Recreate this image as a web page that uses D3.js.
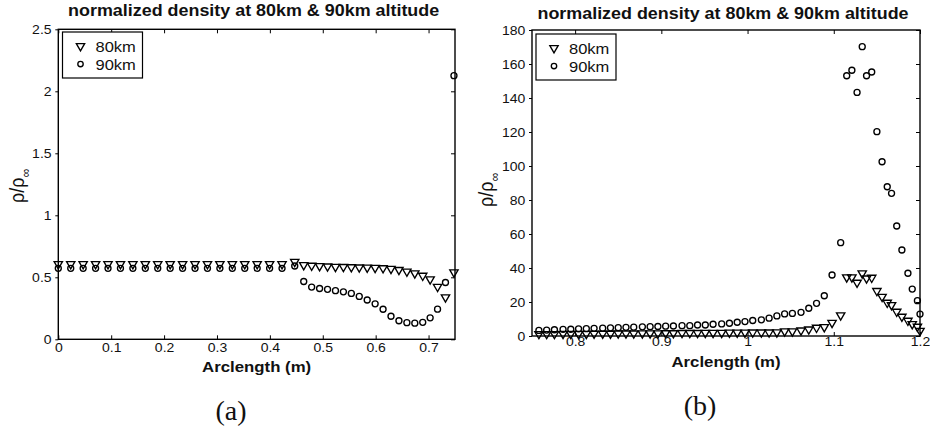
<!DOCTYPE html>
<html>
<head>
<meta charset="utf-8">
<script src="https://cdn.jsdelivr.net/npm/d3@7/dist/d3.min.js"></script>
<style>
  html, body { margin: 0; padding: 0; background: #fff; }
  svg { display: block; }
  text { font-family: "Liberation Sans", Arial, Helvetica, sans-serif; fill: #111; }
</style>
</head>
<body>
<svg id="fig" width="930" height="430"></svg>
<script>
// ---- panel (a): arclength 0 .. 0.75 m ----
const arcA = [0, 0.0235, 0.0470, 0.0705, 0.0940, 0.1175, 0.1410, 0.1645, 0.1880, 0.2115,
  0.2350, 0.2585, 0.2820, 0.3055, 0.3290, 0.3525, 0.3760, 0.3995, 0.4230, 0.4470,
  0.4640, 0.4790, 0.4940, 0.5090, 0.5240, 0.5390, 0.5540, 0.5690, 0.5840, 0.5990,
  0.6140, 0.6290, 0.6440, 0.6590, 0.6740, 0.6890, 0.7030, 0.7170, 0.7320, 0.7480];
const rho80A = [0.607, 0.607, 0.607, 0.607, 0.607, 0.607, 0.607, 0.607, 0.607, 0.607,
  0.607, 0.607, 0.607, 0.607, 0.607, 0.607, 0.607, 0.607, 0.607, 0.625,
  0.599, 0.594, 0.591, 0.588, 0.585, 0.584, 0.582, 0.580, 0.579, 0.577,
  0.574, 0.569, 0.560, 0.547, 0.532, 0.513, 0.484, 0.424, 0.339, 0.540];
const rho90A = [0.572, 0.572, 0.572, 0.572, 0.572, 0.572, 0.572, 0.572, 0.572, 0.572,
  0.572, 0.572, 0.572, 0.572, 0.572, 0.572, 0.572, 0.572, 0.572, 0.591,
  0.466, 0.421, 0.410, 0.403, 0.392, 0.383, 0.370, 0.346, 0.317, 0.286,
  0.242, 0.186, 0.150, 0.134, 0.130, 0.137, 0.173, 0.243, 0.458, 2.126];
const xTicksA = [0, 0.1, 0.2, 0.3, 0.4, 0.5, 0.6, 0.7];
const yTicksA = [0, 0.5, 1, 1.5, 2, 2.5];

// ---- panel (b): arclength 0.75 .. 1.2 m ----
const arcB = [0.758, 0.767, 0.776, 0.786, 0.795, 0.804, 0.813, 0.822, 0.832, 0.841,
  0.850, 0.859, 0.868, 0.878, 0.887, 0.896, 0.905, 0.914, 0.924, 0.933,
  0.942, 0.951, 0.960, 0.970, 0.979, 0.988, 0.997, 1.006, 1.016, 1.025,
  1.034, 1.043, 1.052, 1.062, 1.071, 1.080, 1.089, 1.098, 1.108, 1.115,
  1.121, 1.127, 1.133, 1.138, 1.144, 1.150, 1.156, 1.162, 1.167, 1.173,
  1.179, 1.186, 1.191, 1.197, 1.200];
const rho80B = [1.2, 1.2, 1.2, 1.3, 1.3, 1.3, 1.3, 1.4, 1.4, 1.4,
  1.5, 1.5, 1.5, 1.6, 1.6, 1.6, 1.7, 1.7, 1.8, 1.8,
  1.8, 1.9, 1.9, 1.9, 2.0, 2.0, 2.0, 2.1, 2.1, 2.1,
  2.2, 2.8, 2.8, 3.3, 3.9, 4.9, 5.3, 7.8, 12.2, 34.5,
  34.5, 31.4, 36.9, 33.9, 34.3, 26.5, 23.1, 19.6, 18.2, 14.3,
  11.4, 9.0, 7.0, 5.5, 3.1];
const rho90B = [3.3, 3.5, 3.7, 3.9, 4.0, 4.2, 4.3, 4.5, 4.6, 4.8,
  4.9, 5.1, 5.2, 5.4, 5.5, 5.6, 5.8, 5.9, 6.1, 6.1,
  6.5, 6.5, 6.9, 7.1, 7.5, 8.1, 8.5, 9.1, 9.5, 10.5,
  11.8, 13.0, 13.3, 13.9, 16.3, 19.2, 23.7, 35.9, 54.9, 153.1,
  156.3, 143.3, 170.2, 153.1, 155.3, 120.2, 102.5, 87.8, 83.9, 64.7,
  50.6, 36.9, 27.6, 20.8, 12.9];
const xTicksB = [0.8, 0.9, 1, 1.1, 1.2];
const yTicksB = [0, 20, 40, 60, 80, 100, 120, 140, 160, 180];

const seriesNames = ["80km", "90km"];
const titleText = "normalized density at 80km & 90km altitude";

const svg = d3.select("#fig");
const SX = 1.12; // horizontal stretch of the exported figure's lettering

function stretchedText(parent, x, y, str, size, weight, anchor, sx) {
  const g = parent.append("g").attr("transform", `translate(${x},${y}) scale(${sx || SX},1)`);
  return g.append("text")
    .attr("text-anchor", anchor || "middle")
    .style("font-size", size + "px")
    .style("font-weight", weight || "normal")
    .text(str);
}

const triangle = d3.symbol().type(d3.symbolTriangle).size(30);

function drawPanel(cfg) {
  const x = d3.scaleLinear().domain(cfg.xDomain).range([cfg.left, cfg.right]);
  const y = d3.scaleLinear().domain(cfg.yDomain).range([cfg.bottom, cfg.top]);
  const g = svg.append("g");

  // markers (clipped a little outside the axes box)
  const clipId = "clip" + cfg.id;
  svg.append("clipPath").attr("id", clipId).append("rect")
    .attr("x", cfg.left - 6).attr("y", cfg.top - 6)
    .attr("width", cfg.right - cfg.left + 12).attr("height", cfg.bottom - cfg.top + 12);
  const marks = g.append("g").attr("clip-path", `url(#${clipId})`);

  marks.selectAll("circle.s90").data(cfg.arc.map((a, i) => [a, cfg.r90[i]]))
    .join("circle").attr("class", "s90")
    .attr("cx", d => x(d[0])).attr("cy", d => y(d[1])).attr("r", 3)
    .attr("fill", "none").attr("stroke", "#000").attr("stroke-width", 1.35);

  marks.selectAll("path.s80").data(cfg.arc.map((a, i) => [a, cfg.r80[i]]))
    .join("path").attr("class", "s80")
    .attr("d", triangle)
    .attr("transform", d => `translate(${x(d[0])},${y(d[1])}) rotate(180)`)
    .attr("fill", "none").attr("stroke", "#000").attr("stroke-width", 1.35);

  // axes
  const axB = g.append("g").attr("transform", `translate(0,${cfg.bottom})`)
    .call(d3.axisBottom(x).tickValues(cfg.xTicks).tickSize(-4).tickPadding(cfg.xPad).tickFormat(d3.format("~g")));
  const axT = g.append("g").attr("transform", `translate(0,${cfg.top})`)
    .call(d3.axisTop(x).tickValues(cfg.xTicks).tickSize(-4).tickFormat(""));
  const axL = g.append("g").attr("transform", `translate(${cfg.left},0)`)
    .call(d3.axisLeft(y).tickValues(cfg.yTicks).tickSize(3).tickPadding(3).tickFormat(d3.format("~g")));
  const axR = g.append("g").attr("transform", `translate(${cfg.right},0)`)
    .call(d3.axisRight(y).tickValues(cfg.yTicks).tickSize(-4).tickFormat(""));
  [axB, axT, axL, axR].forEach(a => {
    a.select(".domain").remove();
    a.selectAll("line").attr("stroke", "#000").attr("stroke-width", 1);
    a.selectAll("text").style("font-family", '"Liberation Sans", Arial, sans-serif')
      .style("font-size", "12.5px").attr("fill", "#111");
  });
  axB.selectAll("text").attr("transform", `scale(${SX},1)`);
  axL.selectAll("text").attr("transform", `scale(${SX},1)`);

  // axes box
  g.append("rect").attr("x", cfg.left).attr("y", cfg.top)
    .attr("width", cfg.right - cfg.left).attr("height", cfg.bottom - cfg.top)
    .attr("fill", "none").attr("stroke", "#000").attr("stroke-width", 1.4);

  // title and axis labels
  stretchedText(g, (cfg.left + cfg.right) / 2 - 3, cfg.titleY, titleText, 16, "bold", "middle", 1.12);
  stretchedText(g, (cfg.left + cfg.right) / 2, cfg.xLabelY, "Arclength (m)", 15, "bold");

  const yl = g.append("g")
    .attr("transform", `translate(${cfg.yLabelX},${cfg.yLabelY}) scale(1.1,1) rotate(-90)`)
    .append("text").attr("text-anchor", "middle").style("font-size", "18px");
  yl.append("tspan").text("ρ/ρ");
  yl.append("tspan").attr("dy", 5).style("font-size", "12px").text("∞");

  // legend
  const lg = g.append("g").attr("transform", `translate(${cfg.legX},${cfg.legY})`);
  lg.append("rect").attr("width", 80).attr("height", 46)
    .attr("fill", "#fff").attr("stroke", "#000").attr("stroke-width", 1.2);
  lg.append("path").attr("d", triangle).attr("transform", "translate(18,14) rotate(180)")
    .attr("fill", "none").attr("stroke", "#000").attr("stroke-width", 1.35);
  lg.append("circle").attr("cx", 18).attr("cy", 32).attr("r", 2.7)
    .attr("fill", "none").attr("stroke", "#000").attr("stroke-width", 1.35);
  seriesNames.forEach((s, i) => {
    stretchedText(lg, 33, 19.5 + i * 18, s, 15, "normal", "start", 1.1);
  });

  // panel caption
  svg.append("text").attr("x", cfg.capX).attr("y", cfg.capY)
    .attr("text-anchor", "middle")
    .style("font-family", '"Liberation Serif", "DejaVu Serif", serif')
    .style("font-size", "28px").text(cfg.caption);
}

drawPanel({
  id: "a", arc: arcA, r80: rho80A, r90: rho90A,
  xDomain: [0, 0.75], yDomain: [0, 2.5], xTicks: xTicksA, yTicks: yTicksA,
  left: 58.3, right: 455, top: 29.3, bottom: 339.3, xPad: 4,
  titleY: 16, xLabelY: 372, yLabelX: 24, yLabelY: 186,
  legX: 62.5, legY: 32, capX: 231, capY: 420, caption: "(a)"
});

drawPanel({
  id: "b", arc: arcB, r80: rho80B, r90: rho90B,
  xDomain: [0.75, 1.2], yDomain: [0, 180], xTicks: xTicksB, yTicks: yTicksB,
  left: 532, right: 920, top: 30, bottom: 336, xPad: 1,
  titleY: 18.5, xLabelY: 367, yLabelX: 493, yLabelY: 190,
  legX: 536, legY: 34, capX: 700, capY: 415, caption: "(b)"
});
</script>
</body>
</html>
